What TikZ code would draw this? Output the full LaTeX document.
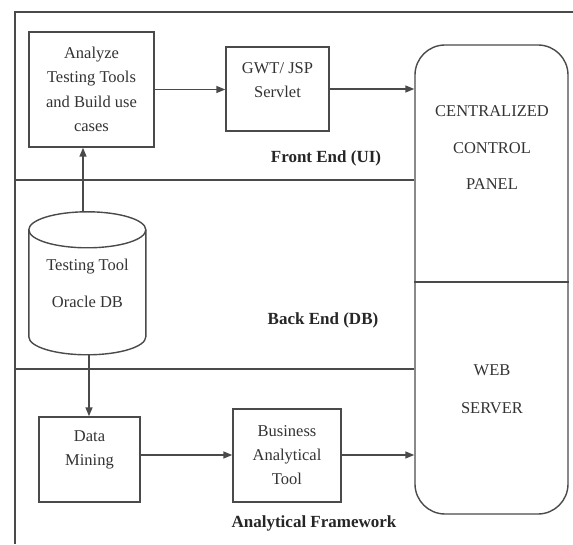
\documentclass[tikz,border=0pt]{standalone}
\usepackage{fontspec}
\setmainfont{Liberation Serif}
\usetikzlibrary{arrows.meta,calc}
\definecolor{ln}{HTML}{4A4A4A}
\definecolor{tx}{HTML}{333333}
\tikzset{
  every node/.style={text=tx},
  ln/.style={draw=ln, line width=1.4pt},
  arr/.style={ln, -{Triangle[length=9pt,width=7pt]}},
  box/.style={ln, rectangle, inner sep=0pt},
  txt/.style={align=center, font=\fontsize{16.5}{24.5}\selectfont},
  lab/.style={font=\fontsize{17}{19}\selectfont\bfseries, text=black!85},
}
\begin{document}
\begin{tikzpicture}[x=1pt,y=1pt]
\useasboundingbox (0,0) rectangle (573,544);
\fill[white] (0,0) rectangle (573,544);
% frame and separators
\coordinate (ftr) at (573,532);
\coordinate (ftl) at (15,532);
\coordinate (fbl) at (15,0);
\draw[ln] (ftr) -- (ftl) -- (fbl);
% rounded panel
\node[box, rounded corners=30pt, minimum width=153pt, minimum height=469pt] (rr) at (491.5,264.5) {};
\coordinate (s1) at (15,364);
\coordinate (s2) at (15,175);
\draw[ln] (s1) -- (s1 -| rr.west);
\draw[ln] (s2) -- (s2 -| rr.west);
\coordinate (mid) at (491.5,262);
\draw[ln] (mid -| rr.west) -- (mid -| rr.east);
\node[txt, font=\fontsize{16.5}{36.5}\selectfont] (ccp) at (492,396) {CENTRALIZED\\CONTROL\\PANEL};
\node[txt, font=\fontsize{16.5}{38}\selectfont] (web) at (492,155) {WEB\\SERVER};
% front end
\node[box, minimum width=125pt, minimum height=115pt] (an) at (91.5,454.5) {};
\node[txt] (ant) at (an.center) {Analyze\\Testing Tools\\and Build use\\cases};
\node[box, minimum width=103pt, minimum height=84pt] (gwt) at (277.5,455) {};
\node[txt] (gwtt) at ($(gwt.center)+(0,9)$) {GWT/ JSP\\Servlet};
\node[lab] (fe) at (326,386) {Front End (UI)};
% back end: cylinder
\node[minimum width=117pt, minimum height=143pt, inner sep=0pt] (db) at (87.5,260.5) {};
\draw[ln, fill=white] (db.north west) ++(0,-18) coordinate (dbtl)
  arc[start angle=180, end angle=-180, x radius=58.5, y radius=18];
\draw[ln] (dbtl) -- ++(0,-107) arc[start angle=180, end angle=360, x radius=58.5, y radius=18] -- ++(0,107);
\node[txt, font=\fontsize{16.5}{37}\selectfont] (dbt) at (87.5,260.5) {Testing Tool\\Oracle DB};
\node[lab] (be) at (323,224) {Back End (DB)};
% analytical framework
\node[box, minimum width=101pt, minimum height=85pt] (dm) at (89.5,84.5) {};
\node[txt] (dmt) at ($(dm.center)+(0,9.5)$) {Data\\Mining};
\node[box, minimum width=108pt, minimum height=93pt] (bat) at (287,88.5) {};
\node[txt, font=\fontsize{16.5}{24}\selectfont] (batt) at (bat.center) {Business\\Analytical\\Tool};
\node[lab] (af) at (314,21) {Analytical Framework};
% connectors
\draw[arr] (an.east) -- (an.east -| gwt.west);
\draw[arr] (gwt.east) -- (gwt.east -| rr.west);
\coordinate (up) at (83,332);
\draw[arr] (up) -- (up |- an.south);
\coordinate (down) at (89,189);
\draw[arr] (down) -- (down |- dm.north);
\coordinate (h1) at (140,89);
\draw[arr] (h1 -| dm.east) -- (h1 -| bat.west);
\draw[arr] (h1 -| bat.east) -- (h1 -| rr.west);
\end{tikzpicture}
\end{document}
